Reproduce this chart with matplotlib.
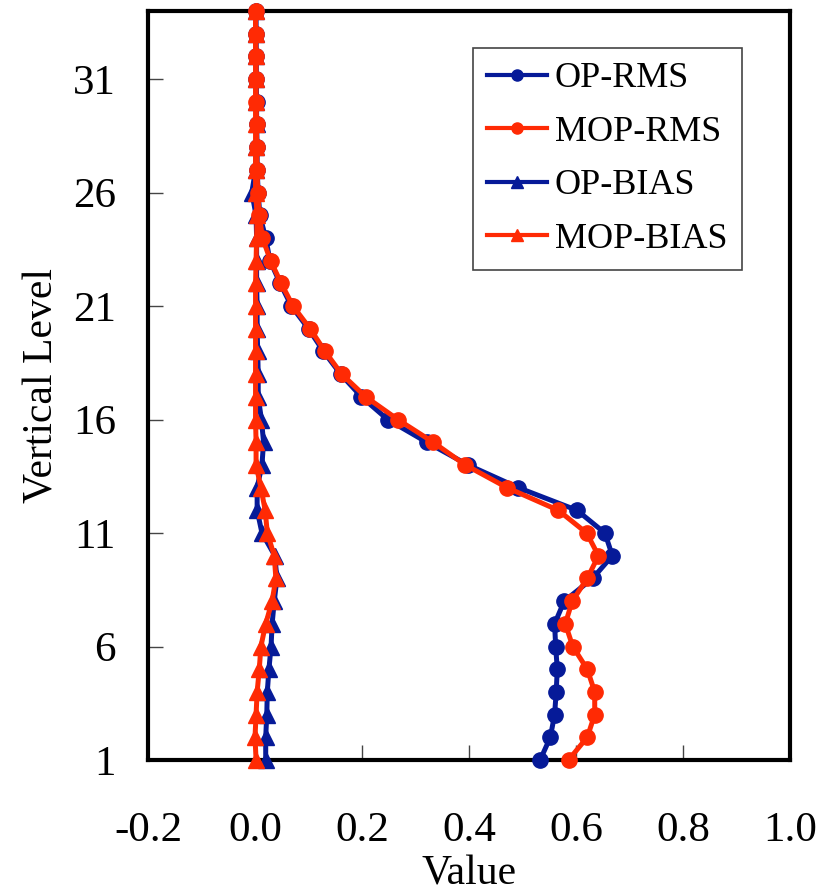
import numpy as np
import matplotlib
matplotlib.use("Agg")
import matplotlib.pyplot as plt
from matplotlib.lines import Line2D

# vertical levels 1..34 (bottom to top)
levels = np.arange(1, 35)

op_rms = [0.533, 0.552, 0.560, 0.563, 0.565, 0.562, 0.560, 0.578, 0.631, 0.668,
          0.654, 0.602, 0.492, 0.398, 0.321, 0.248, 0.199, 0.160, 0.128, 0.100,
          0.068, 0.047, 0.028, 0.020, 0.009, 0.006, 0.004, 0.004, 0.003, 0.003,
          0.002, 0.002, 0.001, 0.001]
mop_rms = [0.586, 0.621, 0.635, 0.635, 0.621, 0.594, 0.580, 0.593, 0.621, 0.642,
           0.620, 0.567, 0.471, 0.393, 0.333, 0.267, 0.207, 0.162, 0.131, 0.103,
           0.071, 0.049, 0.029, 0.014, 0.008, 0.005, 0.004, 0.003, 0.003, 0.002,
           0.002, 0.002, 0.001, 0.001]
op_bias = [0.020, 0.020, 0.022, 0.023, 0.026, 0.030, 0.032, 0.036, 0.041, 0.037,
           0.013, 0.004, 0.004, 0.013, 0.016, 0.012, 0.006, 0.006, 0.005, 0.004,
           0.004, 0.003, 0.003, 0.003, 0.002, -0.006, 0.001, 0.002, 0.003, 0.002,
           0.002, 0.002, 0.002, 0.002]
mop_bias = [0.002, 0.000, 0.002, 0.004, 0.008, 0.011, 0.020, 0.032, 0.039, 0.036,
            0.023, 0.019, 0.011, 0.002, 0.002, 0.001, 0.001, 0.001, 0.001, 0.001,
            0.001, 0.001, 0.002, 0.003, 0.004, 0.001, 0.001, 0.001, 0.001, 0.001,
            0.001, 0.001, 0.001, 0.001]

xticks = [-0.2, 0.0, 0.2, 0.4, 0.6, 0.8, 1.0]
yticks = [1, 6, 11, 16, 21, 26, 31]

BLUE = "#061a98"
RED = "#ff2a04"

plt.rcParams["font.family"] = ["Liberation Serif", "DejaVu Serif"]

fig = plt.figure(figsize=(8.2, 8.94), dpi=100)
ax = fig.add_axes([0.1805, 0.1499, 0.7829, 0.8378])

lw, ms = 3.6, 11
ax.plot(op_rms, levels, color=BLUE, lw=lw, marker="o", ms=ms, clip_on=False, zorder=3)
ax.plot(op_bias, levels, color=BLUE, lw=lw, marker="^", ms=ms, clip_on=False, zorder=3)
ax.plot(mop_rms, levels, color=RED, lw=lw, marker="o", ms=ms, clip_on=False, zorder=4)
ax.plot(mop_bias, levels, color=RED, lw=lw, marker="^", ms=ms, clip_on=False, zorder=5)

ax.set_xlim(-0.2, 1.0)
ax.set_ylim(1, 34)
ax.set_xticks(xticks)
ax.set_xticklabels([f"{v:.1f}" for v in xticks])
ax.set_yticks(yticks)
ax.tick_params(direction="in", length=11, width=1, color="#444444", labelsize=31)
ax.tick_params(axis="x", pad=37)
ax.tick_params(axis="y", pad=23)
for sp in ax.spines.values():
    sp.set_linewidth(3)

ax.set_xlabel("Value", fontsize=30, labelpad=4)
ax.set_ylabel("Vertical Level", fontsize=30, labelpad=8)

handles = [
    Line2D([], [], color=BLUE, lw=3, marker="o", ms=8, label="OP-RMS"),
    Line2D([], [], color=RED, lw=3, marker="o", ms=8, label="MOP-RMS"),
    Line2D([], [], color=BLUE, lw=3, marker="^", ms=8, label="OP-BIAS"),
    Line2D([], [], color=RED, lw=3, marker="^", ms=8, label="MOP-BIAS"),
]
leg = ax.legend(handles=handles, loc="upper right", bbox_to_anchor=(0.925, 0.951),
                fontsize=26, frameon=True, fancybox=False, framealpha=1,
                edgecolor="#444444", handlelength=1.65, handletextpad=0.22,
                labelspacing=0.56, borderpad=0.4, borderaxespad=0)
leg.get_frame().set_linewidth(1.2)

fig.savefig("out.png", dpi=100)
